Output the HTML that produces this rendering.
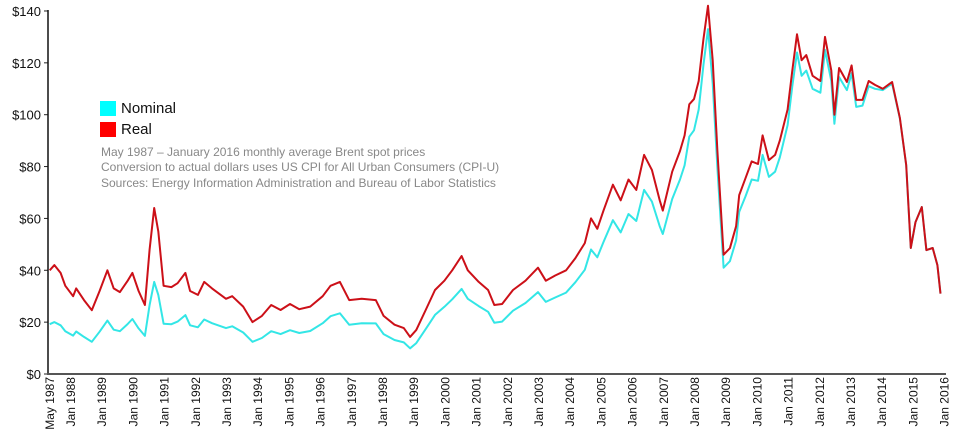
<!DOCTYPE html>
<html><head><meta charset="utf-8"><style>
html,body{margin:0;padding:0;background:#fff;}
svg{display:block;font-family:"Liberation Sans",sans-serif;}
</style></head><body>
<svg id="chart" width="960" height="445" viewBox="0 0 960 445">
<g id="grid"></g>
<g id="series"></g>
<g>
<rect x="100" y="101" width="16" height="15" fill="#00ffff"/>
<text x="121" y="113" font-size="15" fill="#111">Nominal</text>
<rect x="100" y="122" width="16" height="15" fill="#ff0000"/>
<text x="121" y="134" font-size="15" fill="#111">Real</text>
<text x="101" y="156" font-size="12" fill="#888">May 1987 – January 2016 monthly average Brent spot prices</text>
<text x="101" y="171" font-size="12" fill="#888">Conversion to actual dollars uses US CPI for All Urban Consumers (CPI-U)</text>
<text x="101" y="187" font-size="12" fill="#888">Sources: Energy Information Administration and Bureau of Labor Statistics</text>
</g>
</svg>
<script>
const dates=[1987.35,1987.5,1987.7,1987.85,1988.1,1988.2,1988.45,1988.7,1988.95,1989.2,1989.4,1989.6,1989.85,1990.0,1990.2,1990.4,1990.55,1990.7,1990.83,1991.0,1991.25,1991.45,1991.7,1991.85,1992.1,1992.3,1992.55,1993.0,1993.2,1993.55,1993.85,1994.15,1994.45,1994.75,1995.05,1995.35,1995.7,1996.1,1996.35,1996.65,1996.95,1997.35,1997.8,1998.05,1998.4,1998.7,1998.9,1999.1,1999.4,1999.7,2000.0,2000.25,2000.55,2000.75,2001.1,2001.4,2001.6,2001.85,2002.2,2002.6,2003.0,2003.25,2003.55,2003.9,2004.2,2004.5,2004.7,2004.9,2005.1,2005.4,2005.65,2005.9,2006.15,2006.4,2006.65,2006.9,2007.0,2007.3,2007.55,2007.7,2007.85,2008.0,2008.15,2008.3,2008.45,2008.6,2008.75,2008.95,2009.15,2009.35,2009.45,2009.65,2009.85,2010.05,2010.2,2010.4,2010.6,2010.75,2011.0,2011.15,2011.3,2011.45,2011.6,2011.8,2012.05,2012.2,2012.4,2012.5,2012.65,2012.9,2013.05,2013.2,2013.4,2013.6,2013.8,2014.05,2014.35,2014.6,2014.8,2014.95,2015.1,2015.3,2015.45,2015.65,2015.8,2015.9,2016.0];
const realValues=[40,42,39,34,30,33,28.5,24.6,32,40,33,31.6,36,39,32,26.6,48,64,55,34,33.5,35,39,32,30.5,35.5,33,29,30,26,20,22.4,26.6,24.7,27,25,26,30,34,35.5,28.5,29,28.5,22.4,19,17.7,14.3,17,24.7,32.4,36,40,45.5,40,35.5,32.4,26.6,27,32.4,36,41,36,38,40,44.7,50.5,60,56,63,73,67,75,71,84.5,78.7,67,63,78,86,92,104,106,113,129,142,121,86,46,48.5,57,69,75.5,82,81,92,82.5,84.5,90,102,117,131,121,123,115,113,130,117,100,118,112.6,119,105.7,105.7,113,111.5,110,112.6,98.7,80.6,48.6,58.6,64.4,47.8,48.6,42,31];
const nominalValues=[19.2,20,18.8,16.5,14.8,16.4,14.3,12.4,16.3,20.6,17.1,16.5,19.3,21.2,17.6,14.7,26.6,35.5,30.5,19.4,19.2,20.2,22.7,18.8,18,21,19.6,17.7,18.4,16,12.4,13.9,16.5,15.4,16.9,15.8,16.6,19.6,22.3,23.4,19,19.6,19.5,15.4,13.1,12.2,9.9,11.9,17.3,22.8,25.9,28.8,32.8,29,26.2,24,19.8,20.2,24.4,27.4,31.6,27.8,29.5,31.4,35.4,40.2,48,45,50.9,59.3,54.6,61.7,59,71,66.5,57,54,67.5,75,80.5,91.5,94,102,119,133,112,79.5,41,43.5,51.5,62.5,68.5,75,74.5,84.5,76,78,83.5,96,111,124,115,117,110,108.5,125,113,96.5,114.5,109.5,116,103,103.5,111,110,109.5,112,98.5,80.5,48.6,58.6,64.4,47.8,48.6,42,31];
const yTicks=[0,20,40,60,80,100,120,140];
const xTickYears=[1988,1989,1990,1991,1992,1993,1994,1995,1996,1997,1998,1999,2000,2001,2002,2003,2004,2005,2006,2007,2008,2009,2010,2011,2012,2013,2014,2015,2016];
const NS="http://www.w3.org/2000/svg";
function xs(t){return 70+(t-1988)*31.2;}
function ys(v){return 374-v*2.593;}
const grid=document.getElementById('grid'), ser=document.getElementById('series');
function mk(tag,attrs,parent){const e=document.createElementNS(NS,tag);for(const k in attrs)e.setAttribute(k,attrs[k]);parent.appendChild(e);return e;}
yTicks.forEach(v=>{
 const t=mk('text',{x:41,y:ys(v)+5,'text-anchor':'end','font-size':13,fill:'#111'},grid);
 t.textContent='$'+v;
 
 
 const l=mk('line',{x1:44,x2:48,y1:ys(v),y2:ys(v),stroke:'#222','stroke-width':1},grid);
 
 
});
const may=mk('text',{transform:'translate('+(xs(1987.333)+5)+',377) rotate(-90)','text-anchor':'end','font-size':12,fill:'#111'},grid);
may.textContent='May 1987';


xTickYears.forEach(y=>{
 const t=mk('text',{transform:'translate('+(xs(y)+5)+',377) rotate(-90)','text-anchor':'end','font-size':12,fill:'#111'},grid);
 t.textContent='Jan '+y;
 
 
});
const ya=mk('line',{x1:48,x2:48,y1:10,y2:375,stroke:'#111','stroke-width':1.5},grid);


const xa=mk('line',{x1:47,x2:946,y1:374,y2:374,stroke:'#555','stroke-width':2},grid);


function pts(vals){return vals.map((v,i)=>xs(dates[i]).toFixed(1)+','+ys(v).toFixed(1)).join(' ');}
const pn=mk('polyline',{points:pts(nominalValues),fill:'none',stroke:'#33e6e6','stroke-width':2,'stroke-linejoin':'round'},ser);


const pr=mk('polyline',{points:pts(realValues),fill:'none',stroke:'#cc1018','stroke-width':2,'stroke-linejoin':'round'},ser);


</script>
</body></html>
